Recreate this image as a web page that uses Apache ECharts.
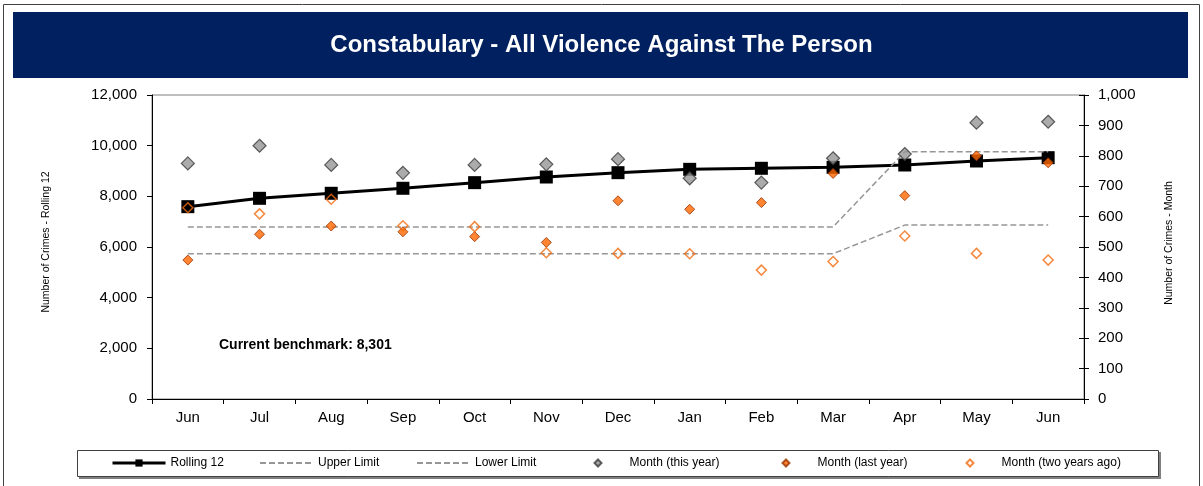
<!DOCTYPE html>
<html><head><meta charset="utf-8">
<script src="https://cdn.jsdelivr.net/npm/echarts@6/dist/echarts.min.js"></script>
<style>html,body{margin:0;padding:0;background:#fff}#c{width:1203px;height:486px}</style>
</head><body><div id="c"></div>
<script>
const categories = ['Jun','Jul','Aug','Sep','Oct','Nov','Dec','Jan','Feb','Mar','Apr','May','Jun'];
const rolling12 = [7592,7922,8120,8318,8540,8763,8934,9066,9107,9145,9237,9395,9526];
const upperLimit = [566,566,566,566,566,566,566,566,566,566,813,813,813];
const lowerLimit = [478,478,478,478,478,478,478,478,478,478,572,572,572];
const monthThisYear = [775,833,770,744,770,772,789,726,712,792,806,909,912];
const monthLastYear = [457,542,569,550,534,515,652,624,646,742,669,800,777];
const monthTwoYearsAgo = [629,609,657,570,567,481,479,478,424,452,536,479,457];
const titleText = 'Constabulary - All Violence Against The Person';
const benchmarkText = 'Current benchmark: 8,301';

const FONT = 'Liberation Sans, Arial, sans-serif';
const chart = echarts.init(document.getElementById('c'), null, {renderer:'canvas'});
const legendBase = {top:457, padding:0, selectedMode:false,
  textStyle:{fontFamily:FONT, fontSize:12, color:'#000'}};
const diamondLegendText = {fontFamily:FONT, fontSize:12, color:'#000', padding:[0,0,0,23]};
chart.setOption({
  animation:false,
  textStyle:{fontFamily:FONT},
  title:{text:titleText, left:'center', top:33, padding:0,
    textStyle:{color:'#fff', fontSize:24, fontWeight:'bold', fontFamily:FONT}},
  graphic:[
    {type:'rect', shape:{x:3.5,y:4.5,width:1196,height:490}, style:{fill:'#fff', stroke:'#404040', lineWidth:1}, z:-10},
    {type:'rect', shape:{x:13,y:12,width:1175,height:66}, style:{fill:'#002060'}, z:-5},
    {type:'rect', shape:{x:79,y:452,width:1082,height:27}, style:{fill:'#808080'}, z:-5},
    {type:'rect', shape:{x:77.5,y:450.5,width:1081,height:26}, style:{fill:'#fff', stroke:'#404040', lineWidth:1}, z:-4},
    {type:'text', left:219, top:338, style:{text:benchmarkText, font:'bold 14px '+FONT, fill:'#000'}}
  ],
  grid:{left:152, right:119, top:95, height:304, show:true, borderColor:'#808080', borderWidth:1, backgroundColor:'transparent'},
  legend:[
    Object.assign({data:['Rolling 12'], left:111, itemWidth:53, itemHeight:9, lineStyle:{width:3}}, legendBase),
    Object.assign({data:['Upper Limit'], left:259, itemWidth:53, itemHeight:9, itemStyle:{opacity:0}}, legendBase),
    Object.assign({data:['Lower Limit'], left:416, itemWidth:53, itemHeight:9, itemStyle:{opacity:0}}, legendBase),
    Object.assign({}, legendBase, {data:['Month (this year)'], left:593.5, itemWidth:7, itemHeight:7, textStyle:diamondLegendText}),
    Object.assign({}, legendBase, {data:['Month (last year)'], left:781.5, itemWidth:7, itemHeight:7, textStyle:diamondLegendText}),
    Object.assign({}, legendBase, {data:['Month (two years ago)'], left:965.5, itemWidth:7, itemHeight:7, textStyle:diamondLegendText})
  ],
  xAxis:{type:'category', data:categories, boundaryGap:true,
    axisLine:{lineStyle:{color:'#000', width:1}},
    axisTick:{show:true, inside:false, length:5, lineStyle:{color:'#000'}},
    axisLabel:{color:'#000', fontSize:15, margin:11, fontFamily:FONT},
    splitLine:{show:false}},
  yAxis:[
    {type:'value', position:'left', min:0, max:12000, interval:2000,
      name:'Number of Crimes - Rolling 12', nameLocation:'middle', nameGap:100,
      nameTextStyle:{fontSize:10.5, color:'#000', fontFamily:FONT, padding:[0,0,0,10]},
      axisLine:{show:true, lineStyle:{color:'#000'}},
      axisTick:{show:true, length:5, lineStyle:{color:'#000'}},
      axisLabel:{color:'#000', fontSize:15, margin:15, fontFamily:FONT, formatter:v=>v.toLocaleString('en-US')},
      splitLine:{show:false}},
    {type:'value', position:'right', min:0, max:1000, interval:100,
      name:'Number of Crimes - Month', nameLocation:'middle', nameGap:80,
      nameTextStyle:{fontSize:10.5, color:'#000', fontFamily:FONT, padding:[0,0,0,8]},
      axisLine:{show:true, lineStyle:{color:'#000'}},
      axisTick:{show:true, length:5, lineStyle:{color:'#000'}},
      axisLabel:{color:'#000', fontSize:15, margin:14, fontFamily:FONT, formatter:v=>v.toLocaleString('en-US')},
      splitLine:{show:false}},
    {type:'value', position:'right', min:0, max:1000, interval:100,
      axisLine:{show:false}, axisLabel:{show:false},
      axisTick:{show:true, inside:true, length:5, lineStyle:{color:'#000'}},
      splitLine:{show:false}}
  ],
  series:[
    {name:'Rolling 12', type:'line', yAxisIndex:0, data:rolling12,
      symbol:'rect', symbolSize:13, lineStyle:{color:'#000', width:3},
      itemStyle:{color:'#000'}, z:2},
    {name:'Upper Limit', type:'line', yAxisIndex:1, data:upperLimit, symbol:'none',
      lineStyle:{color:'#969696', width:1.5, type:[6,3]}, itemStyle:{color:'#969696'}, z:3},
    {name:'Lower Limit', type:'line', yAxisIndex:1, data:lowerLimit, symbol:'none',
      lineStyle:{color:'#969696', width:1.5, type:[6,3]}, itemStyle:{color:'#969696'}, z:3},
    {name:'Month (this year)', type:'scatter', yAxisIndex:1, data:monthThisYear,
      symbol:'diamond', symbolSize:13, itemStyle:{color:'#969696', borderColor:'#3a3a3a', borderWidth:1.2}, z:4},
    {name:'Month (last year)', type:'scatter', yAxisIndex:1, data:monthLastYear,
      symbol:'diamond', symbolSize:10, itemStyle:{color:'#FF6600', borderColor:'#993300', borderWidth:1}, z:5},
    {name:'Month (two years ago)', type:'scatter', yAxisIndex:1, data:monthTwoYearsAgo,
      symbol:'diamond', symbolSize:10, itemStyle:{color:'rgba(255,255,255,0)', borderColor:'#F26B0F', borderWidth:1.5}, z:6}
  ]
});
</script></body></html>
